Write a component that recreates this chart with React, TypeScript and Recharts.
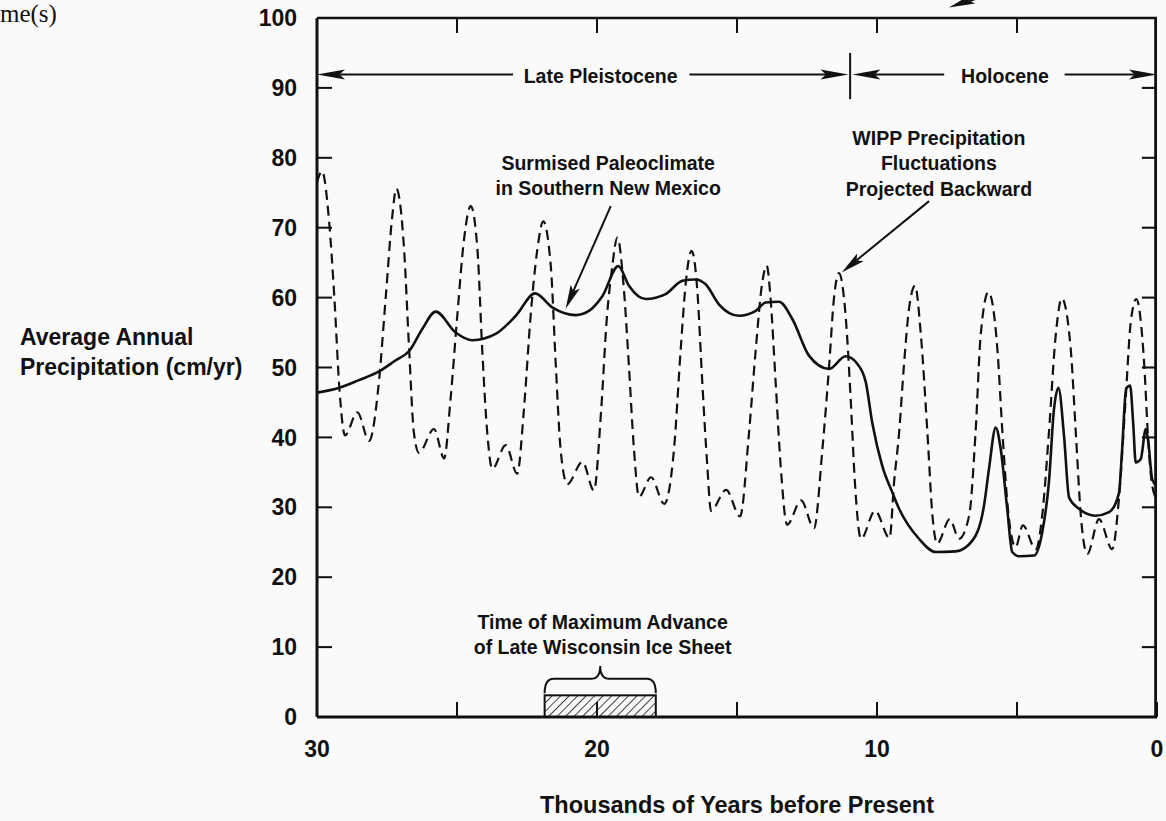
import {
  LineChart,
  Line,
  XAxis,
  YAxis,
  ReferenceLine,
  ReferenceArea,
  ReferenceDot,
} from "recharts";

const FONT = '"Liberation Sans", Arial, Helvetica, sans-serif';
const INK = "#111";

// x: thousands of years before present, y: cm/yr
const yearTicks = [0, 5, 10, 15, 20, 25, 30];
const precipTicks = [0, 10, 20, 30, 40, 50, 60, 70, 80, 90, 100];

// surmised paleoclimate in southern New Mexico (solid)
const paleoYears = [
  30, 29.2, 28.5, 27.8, 27.2, 26.7, 26.24, 25.76, 25.05, 24.45, 23.62, 22.9,
  22.21, 21.6, 20.76, 20.29, 19.81, 19.24, 18.86, 18.26, 17.55, 16.95, 16.48,
  16.12, 15.64, 14.93, 14.33, 13.98, 13.5, 13.02, 12.43, 11.71, 11.12, 10.7,
  10.4, 10.17, 9.81, 9.45, 9.21, 8.5, 7.9, 7.19, 6.6, 6.18, 6.0, 5.76, 5.58,
  5.35, 5.17, 4.93, 4.39, 4.1, 3.86, 3.68, 3.52, 3.32, 3.14, 2.79, 2.19, 1.71,
  1.36, 1.25, 1.1, 0.96, 0.85, 0.76, 0.58, 0.4, 0.31, 0.17, 0,
];
const paleoPrecip = [
  46.4, 47.1, 48.2, 49.4, 51.0, 52.4, 55.5, 58.0, 55.0, 53.9, 54.8, 57.4,
  60.6, 58.6, 57.5, 58.1, 60.2, 64.5, 61.7, 59.8, 60.5, 62.4, 62.6, 61.9,
  59.0, 57.4, 58.1, 59.3, 59.4, 56.9, 51.7, 49.8, 51.6, 50.5, 47.9, 42.1,
  35.9, 32.1, 29.8, 25.5, 23.6, 23.7, 25.2, 30.2, 35.5, 41.4, 38.3, 29.8,
  23.6, 23.0, 23.1, 26.4, 33.6, 44.0, 47.1, 40.2, 31.4, 29.8, 28.8, 29.3,
  32.0, 38.0, 47.0, 47.4, 42.0, 36.4, 36.9, 41.2, 39.3, 34.0, 33.0,
];

// WIPP precipitation fluctuations projected backward (dashed)
const wippYears = [
  30, 29.82, 29.57, 29.38, 29.2, 29.0, 28.56, 28.14, 27.79, 27.55, 27.31,
  27.17, 26.89, 26.71, 26.54, 26.36, 25.82, 25.46, 25.23, 24.99, 24.75,
  24.51, 24.27, 24.1, 23.92, 23.74, 23.26, 22.85, 22.61, 22.37, 22.13,
  21.92, 21.65, 21.47, 21.3, 21.06, 20.52, 20.11, 19.85, 19.65, 19.47,
  19.27, 19.04, 18.86, 18.68, 18.5, 18.07, 17.6, 17.25, 17.01, 16.83,
  16.62, 16.42, 16.24, 16.06, 15.93, 15.39, 14.89, 14.57, 14.33, 14.1,
  13.94, 13.8, 13.62, 13.44, 13.21, 12.71, 12.25, 11.95, 11.71, 11.54,
  11.36, 11.12, 10.94, 10.79, 10.57, 10.07, 9.55, 9.39, 9.21, 9.04, 8.86,
  8.64, 8.44, 8.2, 8.02, 7.85, 7.4, 7.07, 6.71, 6.48, 6.3,
  6.02, 5.7, 5.52, 5.3, 5.05, 4.79, 4.33, 4.1, 3.86, 3.62,
  3.4, 3.08, 2.9, 2.72, 2.49, 2.07, 1.6, 1.36, 1.12, 0.94,
  0.74, 0.45, 0.32, 0.19, 0,
];
const wippPrecip = [
  76.5, 78.1, 71, 60, 47, 40.3, 43.6, 39.5, 47.9, 59.8, 71.7,
  75.6, 66.9, 52.6, 40.7, 37.8, 41.2, 37.0, 45.5, 57.4, 68.3,
  73.1, 66.9, 52.6, 40.7, 35.5, 38.9, 34.8, 44, 57.4, 66.9,
  70.9, 64.5, 50.2, 38.3, 33.3, 36.5, 32.4, 44, 57, 64,
  68.6, 61.2, 50.2, 38.3, 31.5, 34.3, 30.5, 38.3, 52.6, 62.1,
  66.7, 61.2, 47.9, 35.9, 29.5, 32.5, 28.7, 40.7, 52.6, 62.1,
  64.6, 59.8, 47.9, 35.9, 27.5, 31, 27, 38.3, 50.2, 59.8,
  63.5, 57.4, 45.5, 33.6, 25.5, 29.5, 25.6, 33.6, 40.7, 50.2, 58.3,
  61.7, 55, 40.7, 28.8, 24.8, 28.3, 25.5, 28.8, 40.7, 54.5,
  60.8, 52.6, 40.7, 28.8, 24.3, 27.4, 24.0, 28.8, 40.7, 54.5,
  59.9, 52.6, 40.7, 28.8, 23.3, 28.3, 24.0, 31.2, 45.5, 56.4,
  59.8, 50, 40, 33.6, 31,
];

const paleo = paleoYears.map((x, i) => ({ x, y: paleoPrecip[i] }));
const wipp = wippYears.map((x, i) => ({ x, y: wippPrecip[i] }));

// annotation arrows, [x, y] in data units
const eraArrows = [
  [[23.0, 91.9], [30, 91.9]],
  [[16.7, 91.9], [11.02, 91.9]],
  [[7.6, 91.9], [10.88, 91.9]],
  [[3.3, 91.9], [0, 91.9]],
];
const pointerArrows = [
  [[19.51, 73.1], [21.12, 58.4]],
  [[8.14, 73.8], [11.26, 63.6]],
];
const notes = [
  { x: 19.87, y: 91.75, lines: ["Late Pleistocene"] },
  { x: 5.43, y: 91.75, lines: ["Holocene"] },
  { x: 19.6, y: 79.3, lines: ["Surmised Paleoclimate", "in Southern New Mexico"] },
  { x: 7.79, y: 82.9, lines: ["WIPP Precipitation", "Fluctuations", "Projected Backward"] },
  { x: 19.8, y: 13.6, lines: ["Time of Maximum Advance", "of Late Wisconsin Ice Sheet"] },
];
const iceSheetSpan = [17.9, 21.87];

// frame edge widths and inward tick sizes on the top / right edges, in data units
const TOP_TICK = 2.15;
const RIGHT_TICK = 0.54;
const EDGE_X = 0.1;
const TICK_HALF_X = 0.036;
const TICK_HALF_Y = 0.15;

function Seg({ x1, y1, x2, y2, width = 2 }: any) {
  return <line x1={x1} y1={y1} x2={x2} y2={y2} stroke={INK} strokeWidth={width} />;
}

function Solid({ x, y, width, height }: any) {
  return <rect x={x} y={y} width={width} height={height} fill={INK} />;
}

function Arrow(props: any) {
  const { x1, y1, x2, y2, head = 24, half = 4.5, width = 2 } = props;
  const dx = x2 - x1;
  const dy = y2 - y1;
  const len = Math.hypot(dx, dy) || 1;
  const ux = dx / len;
  const uy = dy / len;
  const bx = x2 - ux * head;
  const by = y2 - uy * head;
  const px = -uy * half;
  const py = ux * half;
  const nx = bx + ux * head * 0.2;
  const ny = by + uy * head * 0.2;
  return (
    <g>
      <line x1={x1} y1={y1} x2={nx} y2={ny} stroke={INK} strokeWidth={width} />
      <polygon
        points={`${x2},${y2} ${bx + px},${by + py} ${nx},${ny} ${bx - px},${by - py}`}
        fill={INK}
      />
    </g>
  );
}

function Note({ cx, cy, lines }: any) {
  return (
    <text
      textAnchor="middle"
      fontFamily={FONT}
      fontWeight="bold"
      fontSize={19.5}
      fill={INK}
    >
      {lines.map((l: string, i: number) => (
        <tspan key={i} x={cx} y={cy + i * 25.5} dy="0.36em">
          {l}
        </tspan>
      ))}
    </text>
  );
}

function Brace({ x, y, width, height }: any) {
  const mid = x + width / 2;
  const bar = y + height * 0.47;
  const r = 9;
  const d = `M${x},${y + height} Q${x},${bar} ${x + r},${bar} L${mid - r},${bar} Q${mid},${bar} ${mid},${y} Q${mid},${bar} ${mid + r},${bar} L${x + width - r},${bar} Q${x + width},${bar} ${x + width},${y + height}`;
  return <path d={d} fill="none" stroke={INK} strokeWidth={2} />;
}

function Hatch({ x, y, width, height }: any) {
  return (
    <g>
      <defs>
        <pattern
          id="ice-hatch"
          patternUnits="userSpaceOnUse"
          width={6}
          height={6}
          patternTransform="rotate(45)"
        >
          <line x1={0} y1={0} x2={0} y2={6} stroke={INK} strokeWidth={1.6} />
        </pattern>
      </defs>
      <rect
        x={x}
        y={y}
        width={width}
        height={height}
        fill="url(#ice-hatch)"
        stroke={INK}
        strokeWidth={2}
      />
    </g>
  );
}

function YTitle() {
  return (
    <g fontFamily={FONT} fontWeight="bold" fill={INK}>
      <text x={0} y={22} fontFamily='"Liberation Serif", "Times New Roman", serif' fontWeight="normal" fontSize={25}>
        me(s)
      </text>
      <text fontSize={23}>
        <tspan x={20} y={345}>Average Annual</tspan>
        <tspan x={20} y={375}>Precipitation (cm/yr)</tspan>
      </text>
    </g>
  );
}

function XTitle({ viewBox }: any) {
  return (
    <text
      x={viewBox.x + viewBox.width / 2}
      y={viewBox.y + 96}
      textAnchor="middle"
      fontFamily={FONT}
      fontWeight="bold"
      fontSize={23.5}
      fill={INK}
    >
      Thousands of Years before Present
    </text>
  );
}

const tickFont = { fill: INK, fontSize: 23, fontWeight: "bold", fontFamily: FONT };

export default function App() {
  return (
    <div
      style={{
        position: "absolute",
        left: 0,
        top: 0,
        width: 1166,
        height: 821,
        background: "#fafafa",
      }}
    >
      <LineChart
        width={1166}
        height={821}
        margin={{ top: 18, right: 9, bottom: 44, left: 257 }}
      >
        <XAxis
          type="number"
          dataKey="x"
          domain={[0, 30]}
          reversed
          allowDataOverflow
          ticks={yearTicks}
          interval={0}
          tickFormatter={(v: number) => (v % 10 === 0 ? String(v) : "")}
          height={60}
          axisLine={{ stroke: INK, strokeWidth: 3 }}
          tickLine={{ stroke: INK, strokeWidth: 2 }}
          tickSize={-15}
          tickMargin={39}
          tick={tickFont}
          label={{ content: (p: any) => <XTitle {...p} /> }}
        />
        <YAxis
          type="number"
          domain={[0, 100]}
          allowDataOverflow
          ticks={precipTicks}
          interval={0}
          width={60}
          axisLine={{ stroke: INK, strokeWidth: 3 }}
          tickLine={{ stroke: INK, strokeWidth: 2 }}
          tickSize={-15}
          tickMargin={35}
          tick={tickFont}
          label={{ content: () => <YTitle /> }}
        />

        {/* top and right edges of the frame with inward ticks */}
        <ReferenceLine
          ifOverflow="visible"
          segment={[
            { x: 30, y: 100 },
            { x: 0, y: 100 },
          ]}
          shape={(p: any) => <Seg {...p} width={2.5} />}
        />
        <ReferenceArea
          x1={0}
          x2={EDGE_X}
          y1={0}
          y2={100}
          shape={(p: any) => <Solid {...p} />}
        />
        {yearTicks.slice(1, -1).map((t) => (
          <ReferenceArea
            key={`tt-${t}`}
            x1={t - TICK_HALF_X}
            x2={t + TICK_HALF_X}
            y1={100 - TOP_TICK}
            y2={100}
            shape={(p: any) => <Solid {...p} />}
          />
        ))}
        {precipTicks.slice(1, -1).map((t) => (
          <ReferenceArea
            key={`rt-${t}`}
            x1={0}
            x2={RIGHT_TICK}
            y1={t - TICK_HALF_Y}
            y2={t + TICK_HALF_Y}
            shape={(p: any) => <Solid {...p} />}
          />
        ))}

        <ReferenceArea
          x1={iceSheetSpan[0]}
          x2={iceSheetSpan[1]}
          y1={0}
          y2={3.1}
          shape={(p: any) => <Hatch {...p} />}
        />
        <ReferenceArea
          x1={iceSheetSpan[0]}
          x2={iceSheetSpan[1]}
          y1={3.4}
          y2={7.3}
          shape={(p: any) => <Brace {...p} />}
        />

        <Line
          data={wipp}
          dataKey="y"
          type="monotone"
          stroke={INK}
          strokeWidth={2.2}
          strokeDasharray="10 6"
          dot={false}
          activeDot={false}
          isAnimationActive={false}
        />
        <Line
          data={paleo}
          dataKey="y"
          type="monotone"
          stroke={INK}
          strokeWidth={2.6}
          dot={false}
          activeDot={false}
          isAnimationActive={false}
        />

        {eraArrows.map((seg, i) => (
          <ReferenceLine
            key={`era-${i}`}
            segment={[
              { x: seg[0][0], y: seg[0][1] },
              { x: seg[1][0], y: seg[1][1] },
            ]}
            shape={(p: any) => <Arrow {...p} head={28} half={5} />}
          />
        ))}
        <ReferenceLine
          segment={[
            { x: 10.96, y: 95.0 },
            { x: 10.96, y: 88.4 },
          ]}
          shape={(p: any) => <Seg {...p} />}
        />
        {pointerArrows.map((seg, i) => (
          <ReferenceLine
            key={`ptr-${i}`}
            segment={[
              { x: seg[0][0], y: seg[0][1] },
              { x: seg[1][0], y: seg[1][1] },
            ]}
            shape={(p: any) => <Arrow {...p} head={24} half={5} />}
          />
        ))}
        <ReferenceLine
          ifOverflow="visible"
          segment={[
            { x: 6.18, y: 103.3 },
            { x: 7.43, y: 101.5 },
          ]}
          shape={(p: any) => <Arrow {...p} head={26} half={5} width={4} />}
        />
        {notes.map((n, i) => (
          <ReferenceDot
            key={`note-${i}`}
            x={n.x}
            y={n.y}
            r={0}
            shape={(p: any) => <Note cx={p.cx} cy={p.cy} lines={n.lines} />}
          />
        ))}
      </LineChart>
    </div>
  );
}
